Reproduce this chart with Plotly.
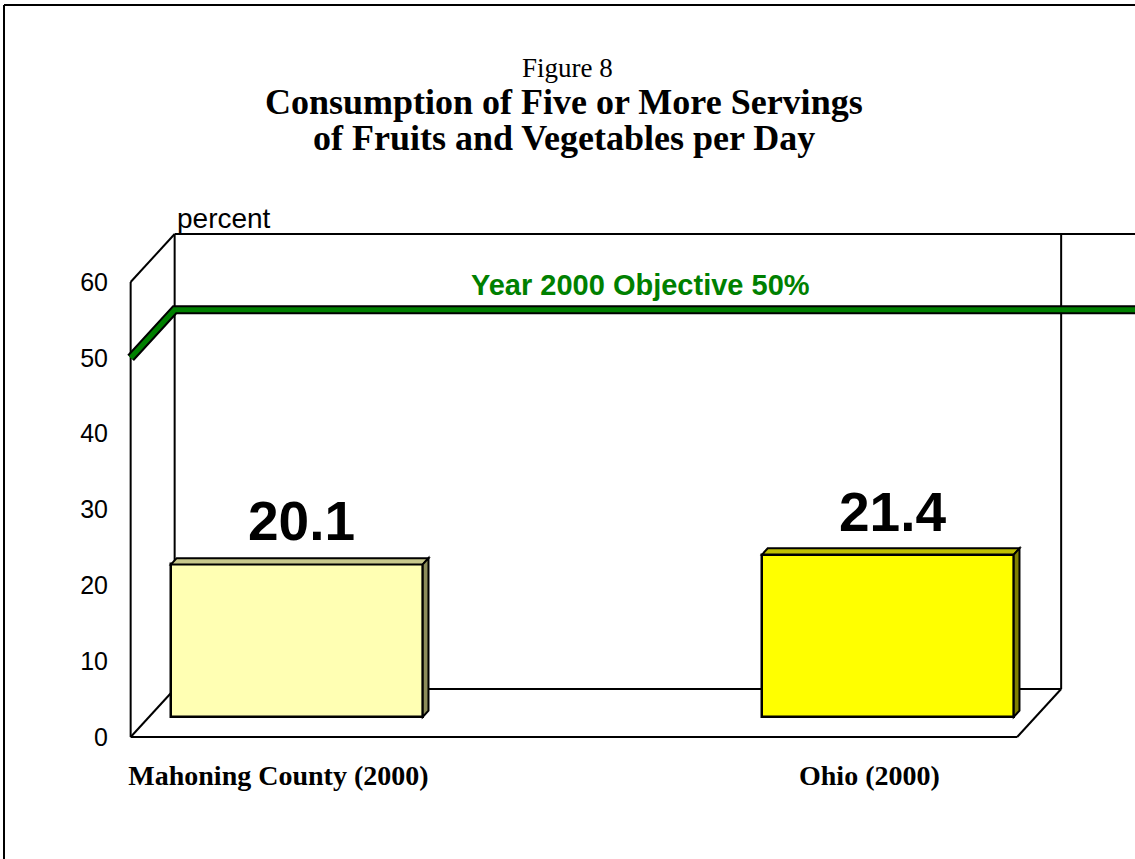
import plotly.graph_objects as go

# ---------------- data ----------------
categories = ["Mahoning County (2000)", "Ohio (2000)"]
values = [20.1, 21.4]
value_labels = ["20.1", "21.4"]
objective_value = 50
objective_label = "Year 2000 Objective 50%"
y_ticks = [0, 10, 20, 30, 40, 50, 60]
face_colors = ["#FFFFB3", "#FFFF00"]
top_colors = ["#C8C88C", "#C0C000"]
side_colors = ["#8C8C5A", "#808000"]

# ---------------- layout geometry ----------------
W, H = 1135, 859
L, R, T, B = 125, 1135, 225, 748          # plot area in pixels
X0PX, PXU = 278.4, 591.0                  # pixel of x=0 and pixels per category unit
Y0PX, PYU = 737.0, 7.583                  # pixel of y=0 and pixels per percent
xrange = [(L - X0PX) / PXU, (R - X0PX) / PXU]
yrange = [(Y0PX - B) / PYU, (Y0PX - T) / PYU]

DX = 44 / PXU          # depth offset in x units
DY = 48 / PYU          # depth offset in y units
XL, XR = -0.25, 1.25   # floor front extent
YTOP = 60
BAR_W = 0.426
FACE_F = 0.42          # where bar fronts sit within the depth
BAR_D = 0.13           # bar depth as fraction of total depth


def ppx(px):
    return (px - L) / (R - L)


def ppy(py):
    return (B - py) / (B - T)


fig = go.Figure()

# bars (front faces)
bx = [i + FACE_F * DX for i in range(len(categories))]
fig.add_trace(go.Bar(
    x=bx, y=values, base=[FACE_F * DY] * len(values), width=BAR_W,
    marker=dict(color=face_colors, line=dict(color="black", width=2.5)),
    showlegend=False, hoverinfo="skip",
))

shapes = []
line_k = dict(color="black", width=2)

# frame: back wall & floor & left wall
xr_edge = xrange[1] + 0.05
frame_lines = [
    (XL, 0, XL, YTOP),
    (XL, YTOP, XL + DX, YTOP + DY),
    (XL + DX, YTOP + DY, xr_edge, YTOP + DY),
    (XL + DX, DY, XL + DX, YTOP + DY),
    (XR + DX, DY, XR + DX, YTOP + DY),
    (XL + DX, DY, XR + DX, DY),
    (XL, 0, XL + DX, DY),
    (XL, 0, XR, 0),
    (XR, 0, XR + DX, DY),
]
for x0, y0, x1, y1 in frame_lines:
    shapes.append(dict(type="line", xref="x", yref="y", x0=x0, y0=y0, x1=x1, y1=y1,
                       line=line_k, layer="below"))

# bar top and side faces
for i, v in enumerate(values):
    x0 = bx[i] - BAR_W / 2
    x1 = bx[i] + BAR_W / 2
    b0 = FACE_F * DY
    top = b0 + v
    ddx = BAR_D * DX
    ddy = BAR_D * DY
    shapes.append(dict(type="path", xref="x", yref="y",
                       path=f"M{x0},{top} L{x0+ddx},{top+ddy} L{x1+ddx},{top+ddy} L{x1},{top} Z",
                       fillcolor=top_colors[i], line=dict(color="black", width=2), layer="above"))
    shapes.append(dict(type="path", xref="x", yref="y",
                       path=f"M{x1},{top} L{x1+ddx},{top+ddy} L{x1+ddx},{b0+ddy} L{x1},{b0} Z",
                       fillcolor=side_colors[i], line=dict(color="black", width=2), layer="above"))

# outer border (top and left)
shapes.append(dict(type="line", xref="paper", yref="paper", x0=ppx(4), y0=ppy(5), x1=ppx(1140), y1=ppy(5),
                   line=dict(color="black", width=2)))
shapes.append(dict(type="line", xref="paper", yref="paper", x0=ppx(4), y0=ppy(5), x1=ppx(4), y1=ppy(865),
                   line=dict(color="black", width=2)))

# objective line
gx = [XL, XL + DX, xr_edge]
gy = [objective_value, objective_value + DY, objective_value + DY]
fig.add_trace(go.Scatter(x=gx, y=gy, mode="lines", line=dict(color="black", width=9),
                         showlegend=False, hoverinfo="skip"))
fig.add_trace(go.Scatter(x=gx, y=gy, mode="lines", line=dict(color="#008000", width=5),
                         showlegend=False, hoverinfo="skip"))

annotations = []
# titles
annotations.append(dict(text="Figure 8", xref="paper", yref="paper", x=ppx(567), y=ppy(68),
                        xanchor="center", yanchor="middle", showarrow=False,
                        font=dict(family="Liberation Serif", size=27, color="black")))
annotations.append(dict(text="<b>Consumption of Five or More Servings</b>", xref="paper", yref="paper",
                        x=ppx(564), y=ppy(102), xanchor="center", yanchor="middle", showarrow=False,
                        font=dict(family="Liberation Serif", size=36, color="black")))
annotations.append(dict(text="<b>of Fruits and Vegetables per Day</b>", xref="paper", yref="paper",
                        x=ppx(564), y=ppy(138), xanchor="center", yanchor="middle", showarrow=False,
                        font=dict(family="Liberation Serif", size=36, color="black")))
# percent
annotations.append(dict(text="percent", xref="x", yref="y", x=XL + DX, y=YTOP + DY,
                        xanchor="left", yanchor="bottom", yshift=-2, showarrow=False,
                        font=dict(family="Liberation Sans", size=28, color="black")))
# objective label
annotations.append(dict(text=f"<b>{objective_label}</b>", xref="x", yref="y", x=0.612, y=objective_value + DY,
                        xanchor="center", yanchor="middle", yshift=25, showarrow=False,
                        font=dict(family="Liberation Sans", size=29, color="#008000")))
# bar values
for i, v in enumerate(values):
    annotations.append(dict(text=f"<b>{value_labels[i]}</b>", xref="x", yref="y", x=bx[i] + 0.008,
                            y=FACE_F * DY + v, xanchor="center", yanchor="bottom", yshift=10,
                            showarrow=False,
                            font=dict(family="Liberation Sans", size=55, color="black")))

fig.update_layout(
    width=W, height=H,
    margin=dict(l=L, r=W - R, t=T, b=H - B, pad=0),
    paper_bgcolor="white", plot_bgcolor="white",
    shapes=shapes, annotations=annotations,
    bargap=0,
    xaxis=dict(range=xrange, showgrid=False, zeroline=False, showline=False,
               tickvals=[0, 1], ticktext=[f"<b>{c}</b>" for c in categories],
               ticks="outside", ticklen=2, tickcolor="rgba(0,0,0,0)",
               tickfont=dict(family="Liberation Serif", size=28, color="black")),
    yaxis=dict(range=yrange, showgrid=False, zeroline=False, showline=False,
               tickvals=y_ticks, ticks="outside", ticklen=11, tickcolor="rgba(0,0,0,0)",
               tickfont=dict(family="Liberation Sans", size=25, color="black")),
)

fig.write_html("out.html", config={"displayModeBar": False},
               post_script="document.body.style.margin='0';document.body.style.overflow='hidden';")
